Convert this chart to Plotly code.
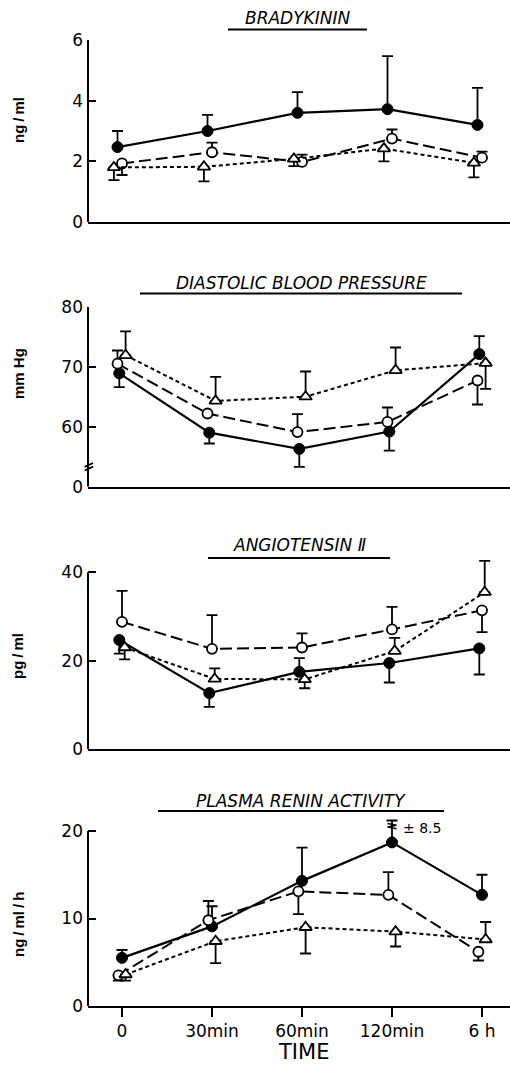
import plotly.graph_objects as go

# ---------------- data ----------------
categories = ["0", "30min", "60min", "120min", "6 h"]

# Bradykinin (ng/ml)
bk_filled = [2.47, 3.0, 3.6, 3.72, 3.2]
bk_filled_up = [0.53, 0.53, 0.68, 1.75, 1.22]
bk_filled_dn = [0, 0, 0, 0, 0]
bk_open = [1.93, 2.3, 1.98, 2.75, 2.12]
bk_open_up = [0, 0.32, 0.24, 0.3, 0.2]
bk_open_dn = [0.38, 0, 0, 0, 0]
bk_tri = [1.8, 1.82, 2.08, 2.42, 1.95]
bk_tri_up = [0, 0, 0, 0, 0]
bk_tri_dn = [0.42, 0.48, 0.24, 0.42, 0.48]

# Diastolic blood pressure (mm Hg)
dbp_filled = [68.9, 59.0, 56.3, 59.2, 72.1]
dbp_filled_up = [0, 0, 0, 0, 3.0]
dbp_filled_dn = [2.3, 1.8, 3.0, 3.2, 0]
dbp_open = [70.5, 62.2, 59.1, 60.8, 67.7]
dbp_open_up = [2.2, 0, 3.0, 2.4, 0]
dbp_open_dn = [0, 0, 0, 0, 4.0]
dbp_tri = [71.9, 64.3, 65.0, 69.4, 70.6]
dbp_tri_up = [4.0, 4.0, 4.2, 3.8, 0]
dbp_tri_dn = [0, 0, 0, 0, 4.3]

# Angiotensin II (pg/ml)
ang_filled = [24.7, 12.7, 17.5, 19.5, 22.8]
ang_filled_up = [0, 0, 3.1, 0, 0]
ang_filled_dn = [3.1, 3.1, 0, 4.4, 5.9]
ang_open = [28.8, 22.7, 23.0, 27.1, 31.4]
ang_open_up = [7.0, 7.6, 3.2, 5.1, 0]
ang_open_dn = [0, 0, 0, 0, 4.9]
ang_tri = [23.0, 15.9, 15.8, 22.2, 35.5]
ang_tri_up = [0, 2.4, 0, 3.0, 7.1]
ang_tri_dn = [2.7, 0, 2.0, 0, 0]

# Plasma renin activity (ng/ml/h)
pra_filled = [5.5, 9.1, 14.3, 18.7, 12.7]
pra_filled_up = [0.9, 2.3, 3.8, 2.5, 2.3]
pra_filled_dn = [0, 0, 0, 0, 0]
pra_open = [3.5, 9.8, 13.1, 12.7, 6.2]
pra_open_up = [0, 2.2, 0, 2.6, 0]
pra_open_dn = [0.6, 0, 2.6, 0, 1.0]
pra_tri = [3.6, 7.4, 9.0, 8.5, 7.6]
pra_tri_up = [0, 0, 0, 0, 2.0]
pra_tri_dn = [0.7, 2.5, 3.0, 1.7, 0]
pra_note = "± 8.5"

titles = ["BRADYKININ", "DIASTOLIC BLOOD PRESSURE", "ANGIOTENSIN Ⅱ", "PLASMA RENIN ACTIVITY"]
ytitles = ["ng\u2009/\u2009ml", "mm Hg", "pg\u2009/\u2009ml", "ng\u2009/\u2009ml\u2009/\u2009h"]
xtitle = "TIME"

# ---------------- layout geometry (pixels) ----------------
W, H = 510, 1068
AX_LEFT = 88
X0_PX, X_STEP = 122, 90.0
TICK_FONT = dict(family="DejaVu Sans", size=17, color="black")

def py(p):
    return 1 - p / H

panels = [
    dict(f=(bk_filled, bk_filled_up, bk_filled_dn), o=(bk_open, bk_open_up, bk_open_dn),
         t=(bk_tri, bk_tri_up, bk_tri_dn), bottom_px=222, per=30.33, rng=(0, 6), top=6,
         tickvals=[0, 2, 4, 6], ticktext=["0", "2", "4", "6"], off=(-0.05, 0.0, -0.09),
         title_y=18, ul_y=29.5, ul=(228, 367), ytitle_y=120),
    dict(f=(dbp_filled, dbp_filled_up, dbp_filled_dn), o=(dbp_open, dbp_open_up, dbp_open_dn),
         t=(dbp_tri, dbp_tri_up, dbp_tri_dn), bottom_px=486.7, per=6.0, rng=(50, 80), top=80,
         tickvals=[50, 60, 70, 80], ticktext=["0", "60", "70", "80"], off=(-0.03, -0.05, 0.04),
         title_y=283, ul_y=293.5, ul=(140, 462), ytitle_y=374),
    dict(f=(ang_filled, ang_filled_up, ang_filled_dn), o=(ang_open, ang_open_up, ang_open_dn),
         t=(ang_tri, ang_tri_up, ang_tri_dn), bottom_px=749.3, per=4.425, rng=(0, 43.5), top=40,
         tickvals=[0, 20, 40], ticktext=["0", "20", "40"], off=(-0.03, 0.0, 0.03),
         title_y=545, ul_y=558, ul=(208, 390), ytitle_y=656),
    dict(f=(pra_filled, pra_filled_up, pra_filled_dn), o=(pra_open, pra_open_up, pra_open_dn),
         t=(pra_tri, pra_tri_up, pra_tri_dn), bottom_px=1006, per=8.75, rng=(0, 21.6), top=20,
         tickvals=[0, 10, 20], ticktext=["0", "10", "20"], off=(0.0, -0.04, 0.04),
         title_y=801, ul_y=811, ul=(158, 444), ytitle_y=925),
]

xrange = [-(X0_PX - AX_LEFT) / X_STEP, (W - X0_PX) / X_STEP]

fig = go.Figure()
shapes, annotations = [], []
layout_axes = {}

styles = [
    dict(line=dict(color="black", width=2.2, dash="solid"),
         marker=dict(symbol="circle", size=11, color="black", line=dict(color="black", width=1))),
    dict(line=dict(color="black", width=2, dash="12px,5px"),
         marker=dict(symbol="circle", size=10, color="white", line=dict(color="black", width=1.8))),
    dict(line=dict(color="black", width=2, dash="4px,3px"),
         marker=dict(symbol="triangle-up", size=11, color="white", line=dict(color="black", width=1.8))),
]

for i, p in enumerate(panels):
    n = "" if i == 0 else str(i + 1)
    xa, ya = "x" + n, "y" + n
    bottom = p["bottom_px"]
    top_px = bottom - (p["rng"][1] - p["rng"][0]) * p["per"]
    for k, key in enumerate(("f", "o", "t")):
        vals, up, dn = p[key]
        xs = [j + p["off"][k] for j in range(len(categories))]
        fig.add_trace(go.Scatter(
            x=xs, y=vals, mode="lines+markers", xaxis=xa, yaxis=ya,
            line=styles[k]["line"], marker=styles[k]["marker"], cliponaxis=False,
            error_y=dict(type="data", symmetric=False, array=up, arrayminus=dn,
                         color="black", thickness=1.8, width=5.5),
            showlegend=False, hoverinfo="skip"))
    last = i == len(panels) - 1
    layout_axes["xaxis" + n] = dict(
        domain=[AX_LEFT / W, 1], range=xrange, anchor=ya, automargin=False,
        showgrid=False, zeroline=False, showline=True, linecolor="black", linewidth=2,
        tickmode="array", tickvals=list(range(len(categories))), ticktext=categories,
        showticklabels=last, ticks="outside" if last else "", ticklen=9, tickwidth=2,
        tickcolor="black", tickfont=TICK_FONT, fixedrange=True)
    layout_axes["yaxis" + n] = dict(
        domain=[py(bottom), py(top_px)], range=list(p["rng"]), anchor=xa, automargin=False,
        showgrid=False, zeroline=False, showline=False,
        tickmode="array", tickvals=p["tickvals"], ticktext=p["ticktext"],
        ticks="inside", ticklen=8, tickwidth=2, tickcolor="black",
        tickfont=TICK_FONT, ticklabelstandoff=4, fixedrange=True)
    # y axis line from bottom to top tick
    shapes.append(dict(type="line", xref=xa + " domain", yref=ya, x0=0, x1=0,
                       y0=p["rng"][0], y1=p["top"], line=dict(color="black", width=2)))
    # title + underline
    annotations.append(dict(text="<i>" + titles[i] + "</i>", xref="paper", yref="paper",
                            x=(p["ul"][0] + p["ul"][1]) / 2 / W, y=py(p["title_y"]),
                            showarrow=False, xanchor="center", yanchor="middle",
                            font=dict(family="DejaVu Sans", size=17, color="black")))
    shapes.append(dict(type="line", xref="paper", yref="paper",
                       x0=p["ul"][0] / W, x1=p["ul"][1] / W, y0=py(p["ul_y"]), y1=py(p["ul_y"]),
                       line=dict(color="black", width=1.8)))
    annotations.append(dict(text="<b>" + ytitles[i] + "</b>", xref="paper", yref="paper",
                            x=18 / W, y=py(p["ytitle_y"]), textangle=-90, showarrow=False,
                            xanchor="center", yanchor="middle",
                            font=dict(family="Liberation Sans", size=15, color="black")))

# axis break marks on blood-pressure panel
for y0, y1 in ((53.3, 53.95), (52.7, 53.35)):
    shapes.append(dict(type="line", xref="x2 domain", yref="y2", x0=-0.008, x1=0.012,
                       y0=y0, y1=y1, line=dict(color="black", width=1.8)))

# note on truncated error bar (plasma renin, 120 min)
annotations.append(dict(text=pra_note, xref="x4", yref="y4", x=3.33,
                        y=pra_filled[3] + pra_filled_up[3] - 0.9, showarrow=False,
                        xanchor="center", yanchor="middle",
                        font=dict(family="DejaVu Sans", size=14, color="black")))
# zigzag break on that bar
zx = 3 + panels[3]["off"][0]
zy = pra_filled[3] + pra_filled_up[3]
shapes.append(dict(type="path", xref="x4", yref="y4",
                   path=f"M {zx-0.05},{zy-0.35} L {zx+0.05},{zy-0.55} L {zx-0.05},{zy-0.75} L {zx+0.05},{zy-0.95}",
                   line=dict(color="black", width=1.5)))

annotations.append(dict(text=xtitle, xref="paper", yref="paper", x=303 / W, y=py(1066),
                        showarrow=False, xanchor="center", yanchor="bottom",
                        font=dict(family="DejaVu Sans", size=21, color="black")))

fig.update_layout(
    width=W, height=H, margin=dict(l=0, r=0, t=0, b=0, pad=0, autoexpand=False),
    paper_bgcolor="white", plot_bgcolor="white", showlegend=False,
    shapes=shapes, annotations=annotations, **layout_axes)

fig.write_html("out.html", config={"displayModeBar": False},
               post_script="document.body.style.margin='0';document.body.style.padding='0';")
